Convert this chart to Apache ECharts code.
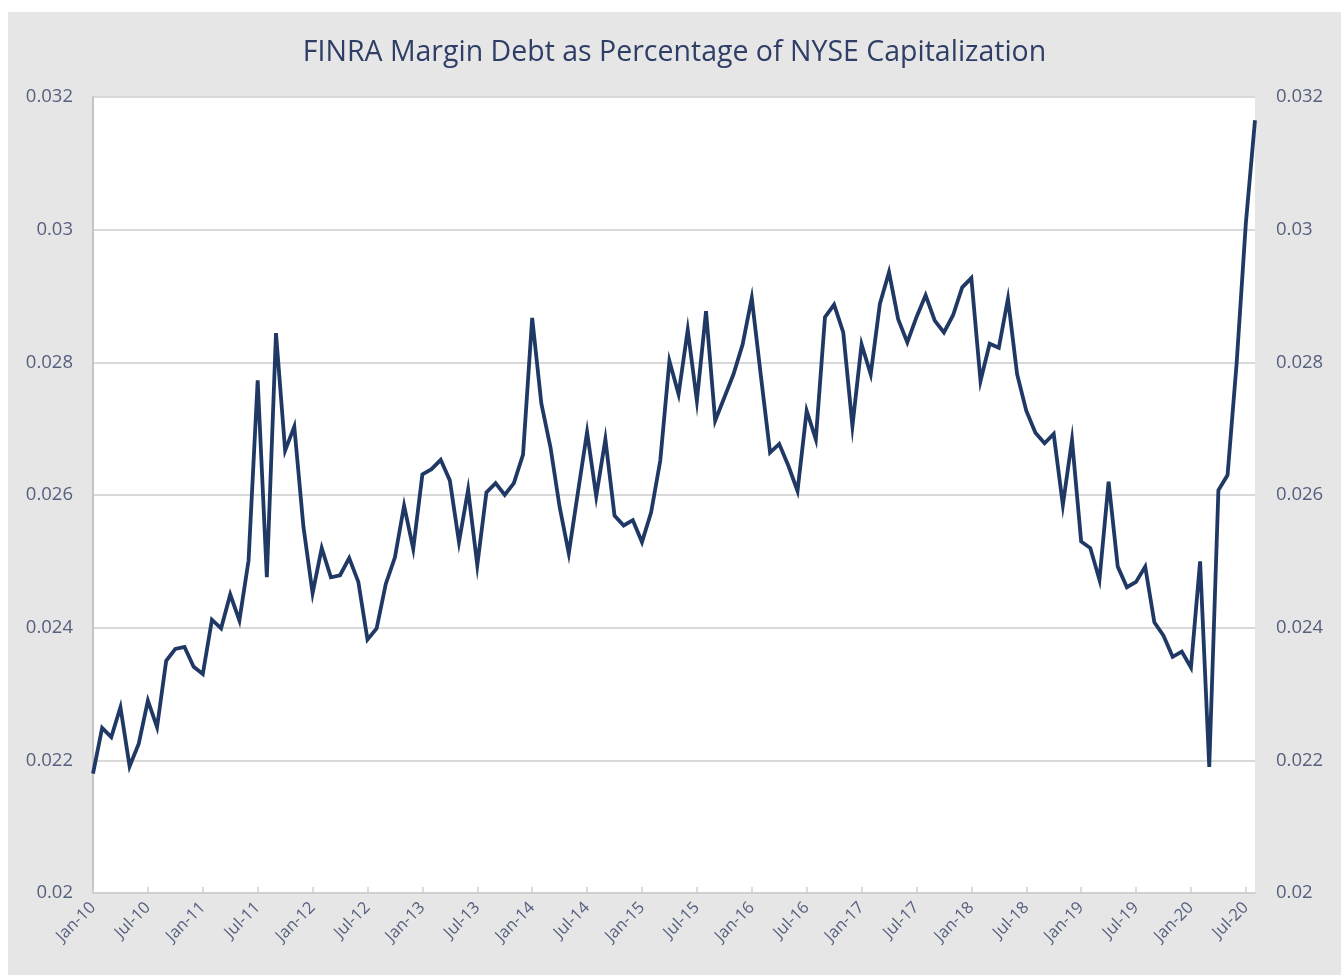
<!DOCTYPE html>
<html>
<head>
<meta charset="utf-8">
<title>FINRA Margin Debt as Percentage of NYSE Capitalization</title>
<script src="https://cdn.jsdelivr.net/npm/echarts@6/dist/echarts.min.js"></script>
<style>
    html, body { margin: 0; padding: 0; background: #ffffff; }
    #chart { position: absolute; left: 8px; top: 12px; width: 1333px; height: 963px; }
</style>
</head>
<body>
<div id="chart"></div>
<script>
// month labels, Jan-10 .. Aug-20
const monthNames = ['Jan', 'Feb', 'Mar', 'Apr', 'May', 'Jun', 'Jul', 'Aug', 'Sep', 'Oct', 'Nov', 'Dec'];
const years = ['10', '11', '12', '13', '14', '15', '16', '17', '18', '19', '20'];
const lastMonthCount = 8; // 2020 ends in Aug

// margin debt / NYSE capitalization, one value per month
const marginRatio = [
    0.0218, 0.02249, 0.02235, 0.0228, 0.02191, 0.02225, 0.0229, 0.0225, 0.0235, 0.02368, 0.02371, 0.02341,
    0.0233, 0.02412, 0.02399, 0.0245, 0.02411, 0.02501, 0.02773, 0.02476, 0.02844, 0.02667, 0.02703, 0.02552,
    0.02452, 0.0252, 0.02476, 0.02479, 0.02505, 0.02469, 0.02382, 0.02399, 0.02466, 0.02506, 0.02584, 0.02519,
    0.02631, 0.02639, 0.02653, 0.02622, 0.02529, 0.02608, 0.02494, 0.02604, 0.02618, 0.026, 0.02618, 0.02661,
    0.02867, 0.02738, 0.02672, 0.02582, 0.02512, 0.02604, 0.02695, 0.02598, 0.02684, 0.02569, 0.02554, 0.02562,
    0.02529, 0.02574, 0.02652, 0.02802, 0.02752, 0.02849, 0.02742, 0.02877, 0.02712, 0.02747, 0.02782, 0.02827,
    0.02897, 0.02779, 0.02664, 0.02677, 0.02644, 0.02606, 0.02727, 0.02684, 0.02868, 0.02887, 0.02845, 0.02704,
    0.02827, 0.02782, 0.02888, 0.02936, 0.02865, 0.0283, 0.02868, 0.02901, 0.02863, 0.02845, 0.02871, 0.02913,
    0.02927, 0.02772, 0.02828, 0.02822, 0.02896, 0.02782, 0.02727, 0.02694, 0.02678, 0.02692, 0.02585, 0.02683,
    0.0253, 0.0252, 0.02472, 0.0262, 0.02492, 0.02461, 0.02469, 0.02492, 0.02408, 0.02388, 0.02356, 0.02364,
    0.0234, 0.025, 0.0219, 0.02607, 0.0263, 0.028, 0.0301, 0.03165
];

// y axis
const yMin = 0.02;
const yMax = 0.032;
const yStep = 0.002;

const categories = [];
years.forEach((y, i) => {
    const n = i === years.length - 1 ? lastMonthCount : 12;
    for (let m = 0; m < n; m++) categories.push(monthNames[m] + '-' + y);
});

const chart = echarts.init(document.getElementById('chart'));

const labelFont = '"Open Sans", "DejaVu Sans", sans-serif';
const labelColor = '#56607f';

const option = {
    backgroundColor: '#e6e6e6',
    animation: false,
    title: {
        text: 'FINRA Margin Debt as Percentage of NYSE Capitalization',
        left: 'center',
        top: 21,
        textStyle: {
            fontFamily: labelFont,
            fontSize: 28.5,
            fontWeight: 'normal',
            color: '#2f3e66'
        }
    },
    grid: {
        left: 85,
        right: 86,
        top: 85,
        bottom: 82,
        show: true,
        backgroundColor: '#ffffff',
        borderWidth: 0
    },
    xAxis: {
        type: 'category',
        data: categories,
        boundaryGap: false,
        axisLine: { lineStyle: { color: '#d0d0d0', width: 2 } },
        axisTick: { interval: 5, length: 6, inside: true, lineStyle: { color: '#d0d0d0', width: 1.5 } },
        axisLabel: {
            interval: 5,
            rotate: 45,
            margin: 12,
            fontFamily: labelFont,
            fontSize: 16.5,
            color: labelColor
        },
        splitLine: { show: false }
    },
    yAxis: [
        {
            type: 'value',
            min: yMin,
            max: yMax,
            interval: yStep,
            axisLine: { show: true, lineStyle: { color: '#c4c4c4', width: 2 } },
            axisTick: { show: false },
            axisLabel: { fontFamily: labelFont, fontSize: 18.5, color: labelColor, margin: 20 },
            splitLine: { lineStyle: { color: '#d9d9d9', width: 2 } }
        },
        {
            type: 'value',
            min: yMin,
            max: yMax,
            interval: yStep,
            position: 'right',
            axisLine: { show: false },
            axisTick: { show: false },
            axisLabel: { fontFamily: labelFont, fontSize: 18.5, color: labelColor, margin: 21 },
            splitLine: { show: false }
        }
    ],
    series: [{
        name: 'Margin debt / NYSE cap',
        type: 'line',
        data: marginRatio,
        showSymbol: false,
        lineStyle: { color: '#1f3864', width: 3.8, join: 'miter' },
        z: 3
    }]
};

chart.setOption(option);

window.addEventListener('resize', function() {
    chart.resize();
});
</script>
</body>
</html>
